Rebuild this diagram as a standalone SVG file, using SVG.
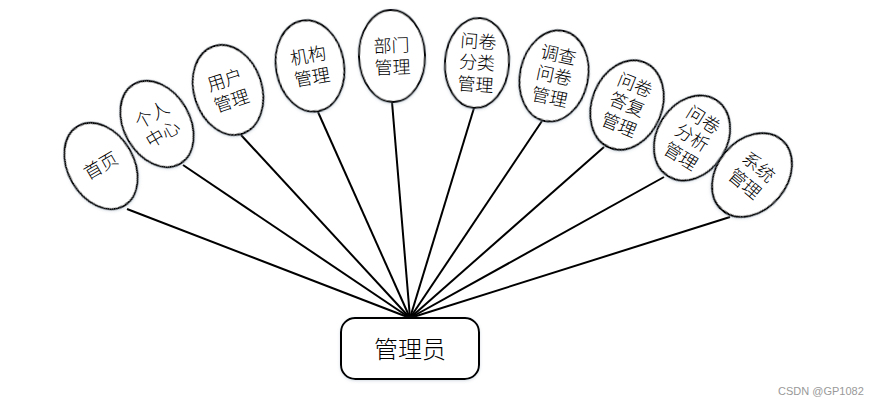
<svg xmlns="http://www.w3.org/2000/svg" width="879" height="405" viewBox="0 0 879 405">
<style>
.bg{fill:#fff}
.node ellipse{fill:#fff;stroke:#000;stroke-width:2;filter:url(#sh)}
.node text{font-family:"Noto Sans CJK SC","Liberation Sans",sans-serif;font-size:18px;font-weight:300;fill:#000;text-anchor:middle}
.root rect{fill:#fff;stroke:#000;stroke-width:2;filter:url(#sh)}
.root text{font-family:"Noto Sans CJK SC","Liberation Sans",sans-serif;font-size:24px;font-weight:300;fill:#000;text-anchor:middle}
.conn line{stroke:#000;stroke-width:2}
.wm{font-family:"Liberation Sans",sans-serif;font-size:11px;fill:#999}
</style>
<defs>
<filter id="sh" x="-20%" y="-20%" width="140%" height="140%">
<feDropShadow dx="0" dy="1" stdDeviation="1.5" flood-color="#9ab" flood-opacity="0.4"/>
</filter>
</defs>
<rect class="bg" width="879" height="405"/>
<g id="connectors" class="conn">
<line x1="127" y1="209" x2="410" y2="318"/>
<line x1="183" y1="165" x2="410" y2="318"/>
<line x1="241" y1="135" x2="410" y2="318"/>
<line x1="318" y1="112" x2="410" y2="318"/>
<line x1="392" y1="102" x2="410" y2="318"/>
<line x1="474" y1="108" x2="410" y2="318"/>
<line x1="542" y1="121" x2="410" y2="318"/>
<line x1="604" y1="147" x2="410" y2="318"/>
<line x1="664" y1="177" x2="410" y2="318"/>
<line x1="730" y1="217" x2="410" y2="318"/>
</g>
<g id="n1" class="node" transform="translate(101,166) rotate(-30)">
<ellipse rx="33" ry="46"/>
<text y="6">首页</text>
</g>
<g id="n2" class="node" transform="translate(157,124) rotate(-30)">
<ellipse rx="33" ry="46"/>
<text y="-4">个人</text>
<text y="18">中心</text>
</g>
<g id="n3" class="node" transform="translate(228,90) rotate(-18)">
<ellipse rx="34" ry="46"/>
<text y="-4">用户</text>
<text y="18">管理</text>
</g>
<g id="n4" class="node" transform="translate(310,66) rotate(-10)">
<ellipse rx="34" ry="46"/>
<text y="-4">机构</text>
<text y="18">管理</text>
</g>
<g id="n5" class="node" transform="translate(392,56) rotate(-2)">
<ellipse rx="33" ry="46"/>
<text y="-4">部门</text>
<text y="18">管理</text>
</g>
<g id="n6" class="node" transform="translate(477,63) rotate(4)">
<ellipse rx="32" ry="45"/>
<text y="-15">问卷</text>
<text y="6">分类</text>
<text y="28">管理</text>
</g>
<g id="n7" class="node" transform="translate(554,76) rotate(12)">
<ellipse rx="34" ry="46"/>
<text y="-15">调查</text>
<text y="6">问卷</text>
<text y="28">管理</text>
</g>
<g id="n8" class="node" transform="translate(627,105) rotate(22)">
<ellipse rx="35" ry="46"/>
<text y="-15">问卷</text>
<text y="6">答复</text>
<text y="28">管理</text>
</g>
<g id="n9" class="node" transform="translate(692,138) rotate(32)">
<ellipse rx="35" ry="45"/>
<text y="-15">问卷</text>
<text y="6">分析</text>
<text y="28">管理</text>
</g>
<g id="n10" class="node" transform="translate(752,175) rotate(40)">
<ellipse rx="35" ry="46"/>
<text y="-4">系统</text>
<text y="18">管理</text>
</g>
<g id="root" class="root">
<rect x="341" y="318" width="138" height="61" rx="14" ry="14"/>
<text x="410" y="358">管理员</text>
</g>
<text class="wm" x="778" y="395">CSDN @GP1082</text>
</svg>
